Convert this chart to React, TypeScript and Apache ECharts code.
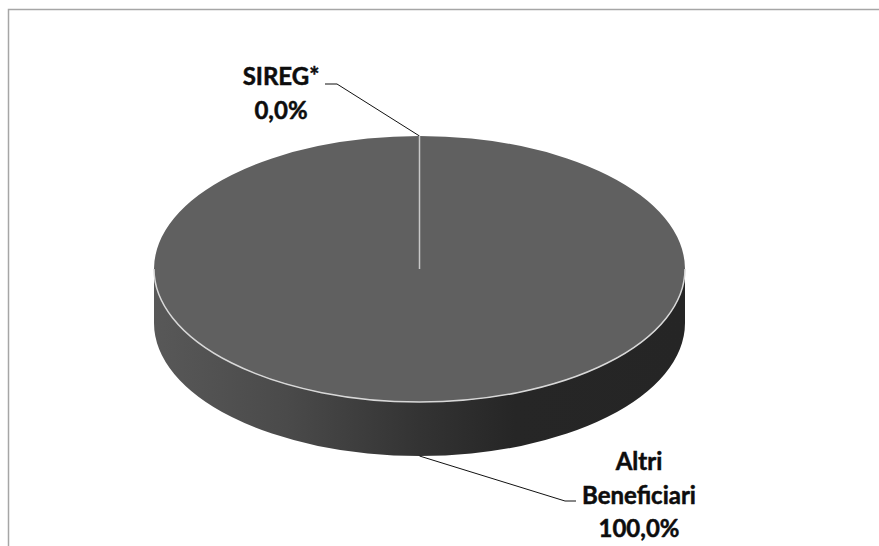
import React, { useEffect, useRef } from "react";
import * as echarts from "echarts";

const categories = ["SIREG*", "Altri\nBeneficiari"];
const values = [0.0, 100.0];

const CX = 419.5;
const CY = 269;
const RX = 265.5;
const RY = 133;
const DEPTH = 54;
const FONT = "bold 24px Lato, Carlito, 'Open Sans', sans-serif";

const total = values.reduce((a, b) => a + b, 0);
const fmt = (v: number) => v.toFixed(1).replace(".", ",") + "%";

// angle in radians, clockwise from 12 o'clock
const px = (a: number) => CX + RX * Math.sin(a);
const py = (a: number, dy = 0) => CY - RY * Math.cos(a) + dy;
const arcTo = (a: number, dy: number, sweep: number) =>
  `A ${RX} ${RY} 0 0 ${sweep} ${px(a)} ${py(a, dy)} `;

const labelSpecs = [
  { x: 281, y: 92.5, stub: [[325, 84], [337, 84]], leader: [[337, 84], [419.5, 136]] },
  { x: 639, y: 494, stub: [[565, 501], [576, 501]], leader: [[419.5, 456], [565, 501]] },
];

function renderItem(params: any, api: any) {
  const i = params.dataIndex;
  const v = api.value(0);
  const before = values.slice(0, i).reduce((a, b) => a + b, 0);
  const a0 = (before / total) * 2 * Math.PI;
  const a1 = ((before + v) / total) * 2 * Math.PI;
  const mid = (a0 + a1) / 2;
  const children: any[] = [];

  // visible wall part of this slice: the front half of the ellipse
  const w0 = Math.max(a0, Math.PI / 2);
  const w1 = Math.min(a1, (3 * Math.PI) / 2);
  if (w1 > w0) {
    const d =
      `M ${px(w1)} ${py(w1)} ` +
      arcTo(w0, 0, 0) +
      `L ${px(w0)} ${py(w0, DEPTH)} ` +
      arcTo(w1, DEPTH, 1) +
      "Z";
    children.push({
      type: "path",
      shape: { pathData: d },
      style: {
        fill: new echarts.graphic.LinearGradient(0, 0, 1, 0, [
          { offset: 0, color: "#585858" },
          { offset: 0.25, color: "#4a4a4a" },
          { offset: 0.5, color: "#333333" },
          { offset: 0.68, color: "#262626" },
          { offset: 1, color: "#252525" },
        ]),
        stroke: "none",
      },
    });
  }

  // top face of the slice
  const top =
    `M ${CX} ${CY} L ${px(a0)} ${py(a0)} ` +
    arcTo(mid, 0, 1) +
    arcTo(a1, 0, 1) +
    "Z";
  children.push({
    type: "path",
    shape: { pathData: top },
    style: { fill: "#606060", stroke: "none" },
  });

  // light edges: the slice's radial sides and its rim along the front
  children.push({
    type: "path",
    shape: { pathData: `M ${CX} ${CY} L ${px(a0)} ${py(a0)} M ${CX} ${CY} L ${px(a1)} ${py(a1)}` },
    style: { fill: "none", stroke: "#c8c8c8", lineWidth: 1.5 },
  });
  if (w1 > w0) {
    children.push({
      type: "path",
      shape: { pathData: `M ${px(w0)} ${py(w0)} ` + arcTo(w1, 0, 1) },
      style: { fill: "none", stroke: "#d8d8d8", lineWidth: 1.5 },
    });
  }

  // leader line
  const spec = labelSpecs[i];
  children.push({
    type: "polyline",
    shape: { points: spec.stub },
    style: { stroke: "#5f5f5f", lineWidth: 1.5, fill: "none" },
  });
  children.push({
    type: "polyline",
    shape: { points: spec.leader },
    style: { stroke: "#111111", lineWidth: 1, fill: "none" },
  });

  // label
  children.push({
    type: "text",
    x: spec.x,
    y: spec.y,
    style: {
      text: `${categories[i]}\n${fmt(v)}`,
      font: FONT,
      lineHeight: 33.5,
      fill: "#0d0d0d",
      stroke: "#0d0d0d",
      lineWidth: 0.5,
      align: "center",
      verticalAlign: "middle",
    },
  });
  return { type: "group", children };
}

export default function App() {
  const ref = useRef<HTMLDivElement>(null);
  useEffect(() => {
    document.body.style.margin = "0";
    const chart = echarts.init(ref.current!, null, { renderer: "svg" });
    chart.setOption({
      animation: false,
      backgroundColor: "#ffffff",
      graphic: [
        {
          type: "polyline",
          silent: true,
          shape: { points: [[8.5, 546], [8.5, 9.5], [879, 9.5]] },
          style: { stroke: "#a6a6a6", lineWidth: 1.5, fill: "none" },
        },
      ],
      series: [
        {
          type: "custom",
          coordinateSystem: "none",
          silent: true,
          data: values.map((v) => [v]),
          renderItem,
        },
      ],
    });
    return () => chart.dispose();
  }, []);
  return <div ref={ref} style={{ width: 879, height: 546 }} />;
}
